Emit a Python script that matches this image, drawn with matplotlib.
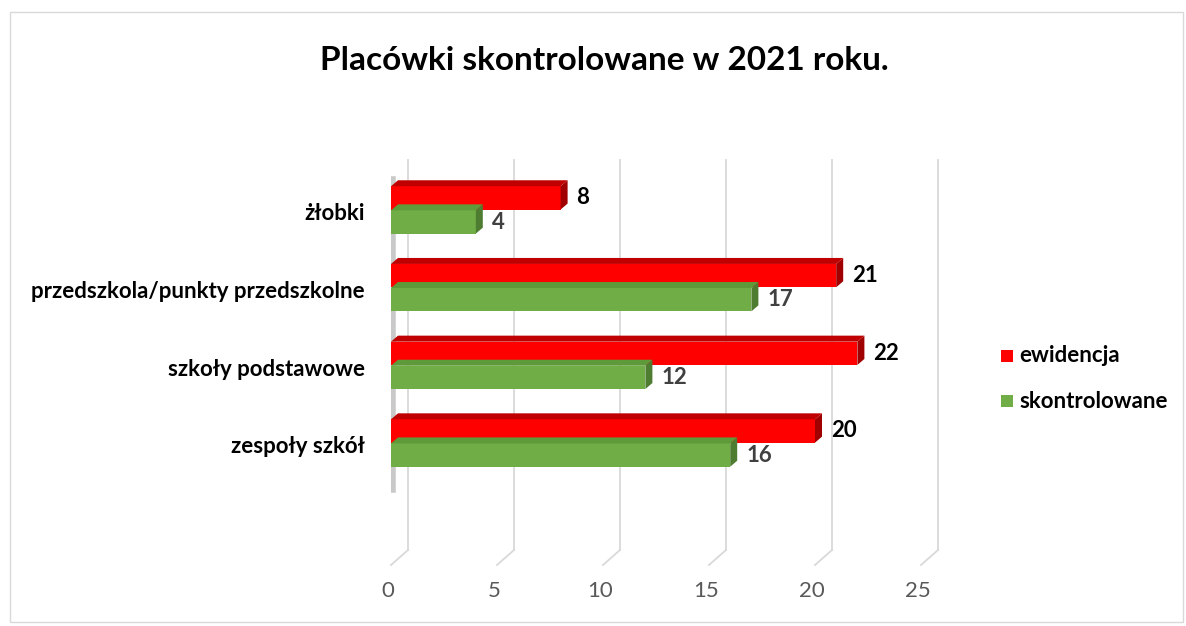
import matplotlib.pyplot as plt
import matplotlib.transforms as mtransforms
from matplotlib.patches import Polygon, Rectangle

categories = ['żłobki', 'przedszkola/punkty przedszkolne', 'szkoły podstawowe', 'zespoły szkół']
ewidencja = [8, 21, 22, 20]
skontrolowane = [4, 17, 12, 16]
x_ticks = [0, 5, 10, 15, 20, 25]

plt.rcParams['font.family'] = ['Lato', 'DejaVu Sans']

W, H = 1186, 626
fig = plt.figure(figsize=(W / 100, H / 100), dpi=100)

# outer chart border
fig.patches.append(Rectangle((10 / W, 4 / H), 1173 / W, 610 / H, transform=fig.transFigure,
                             fill=False, edgecolor='#d9d9d9', lw=1))

# axes in pixel units: x=0 at 391px, x=25 at 921px; front plane from y=175 to y=565
left, right, top, bottom = 391, 921, 175, 565
ax = fig.add_axes([left / W, (H - bottom) / H, (right - left) / W, (bottom - top) / H])
ax.set_xlim(0, 25)
ax.set_ylim(4.57, -0.45)
ax.axis('off')

dx, dy = 17 / 100, 15 / 100  # back-wall depth offset in inches
back = ax.transData + mtransforms.ScaledTranslation(dx, dy, fig.dpi_scale_trans)
ymin, ymax = ax.get_ylim()
inv = ax.transData.inverted()

# 3D style grid: vertical line on back wall + diagonal floor line
for t in x_ticks:
    ax.plot([t, t], [ymin, ymax], color='#d9d9d9', lw=1.3, transform=back, clip_on=False)
    a = inv.transform(ax.transData.transform((t, ymin)))
    b = inv.transform(back.transform((t, ymin)))
    ax.plot([a[0], b[0]], [a[1], b[1]], color='#d9d9d9', lw=1.3, clip_on=False)
    ax.text(t, ymin, str(t), ha='center', va='top', fontsize=16, color='#595959',
            transform=ax.transData + mtransforms.ScaledTranslation(-0.03, -0.16, fig.dpi_scale_trans))

# front edge of the wall and its shading
ax.plot([0, 0], [ymin, -0.2], color='#d9d9d9', lw=1.3,
        transform=ax.transData + mtransforms.ScaledTranslation(-0.04, 0, fig.dpi_scale_trans))
ax.plot([0, 0], [-0.4, 3.6], color='#a6a6a6', lw=4, alpha=0.6,
        transform=ax.transData + mtransforms.ScaledTranslation(0.02, 0, fig.dpi_scale_trans))

bh = 0.30
off = 0.155
sx, sy = 7 / 100, 6 / 100  # bar depth in inches
d = mtransforms.ScaledTranslation(sx, sy, fig.dpi_scale_trans)


def bar3d(y, val, face, side, topc):
    ax.barh(y, val, height=bh, color=face, edgecolor='none', zorder=3)
    y0, y1 = y - bh / 2, y + bh / 2
    # right side face
    pts = [ax.transData.transform(p) for p in [(val, y0), (val, y1)]]
    pts_b = [(ax.transData + d).transform(p) for p in [(val, y1), (val, y0)]]
    poly = [inv.transform(p) for p in pts + pts_b]
    ax.add_patch(Polygon(poly, closed=True, facecolor=side, edgecolor='none', zorder=3))
    # top face
    pts = [ax.transData.transform(p) for p in [(0, y0), (val, y0)]]
    pts_b = [(ax.transData + d).transform(p) for p in [(val, y0), (0, y0)]]
    poly = [inv.transform(p) for p in pts + pts_b]
    ax.add_patch(Polygon(poly, closed=True, facecolor=topc, edgecolor='none', zorder=3))


lab = ax.transData + mtransforms.ScaledTranslation(0.16, 0, fig.dpi_scale_trans)
cat_tr = ax.transData + mtransforms.ScaledTranslation(-0.26, 0, fig.dpi_scale_trans)
for i, cat in enumerate(categories):
    bar3d(i - off, ewidencja[i], '#ff0000', '#a00000', '#c00000')
    bar3d(i + off, skontrolowane[i], '#70ad47', '#4e7d31', '#5f9a3a')
    ax.text(ewidencja[i], i - off, str(ewidencja[i]), ha='left', va='center', fontsize=16,
            fontweight='bold', color='#000000', transform=lab)
    ax.text(skontrolowane[i], i + off, str(skontrolowane[i]), ha='left', va='center', fontsize=16,
            fontweight='bold', color='#404040', transform=lab)
    ax.text(0, i + 0.05, cat, ha='right', va='center', fontsize=16, fontweight='bold',
            color='#000000', transform=cat_tr)

fig.text(604 / W, 1 - 60 / H, 'Placówki skontrolowane w 2021 roku.', ha='center', va='center',
         fontsize=24, fontweight='bold', color='#000000')

# legend
for j, (name, col) in enumerate([('ewidencja', '#ff0000'), ('skontrolowane', '#70ad47')]):
    yy = 1 - (356 + j * 45) / H
    fig.patches.append(Rectangle((1001 / W, yy - 6 / H), 12 / W, 12 / H, transform=fig.transFigure,
                                 facecolor=col, edgecolor='none'))
    fig.text(1019 / W, yy, name, ha='left', va='center', fontsize=16, fontweight='bold',
             color='#000000')

fig.savefig('out.png', dpi=100)
